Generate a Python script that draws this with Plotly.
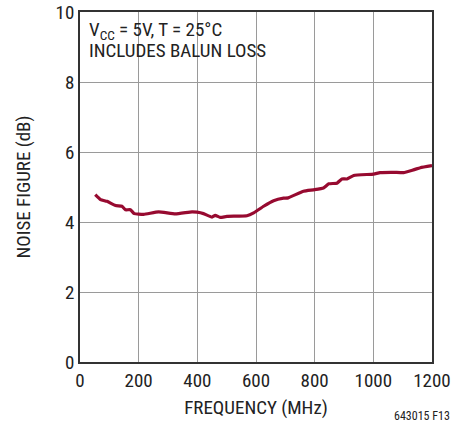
import plotly.graph_objects as go

freq_mhz = [52, 70, 92, 121, 143, 155, 172, 185, 217, 268, 325, 382, 399, 421, 450, 461,
            478, 501, 569, 592, 626, 660, 694, 710, 762, 796, 830, 848, 876, 893, 910,
            933, 1001, 1023, 1069, 1103, 1137, 1160, 1200]
noise_db = [4.78, 4.64, 4.59, 4.47, 4.45, 4.35, 4.35, 4.24, 4.22, 4.29, 4.23, 4.29, 4.28,
            4.24, 4.14, 4.19, 4.13, 4.16, 4.18, 4.26, 4.45, 4.61, 4.68, 4.69, 4.88, 4.92,
            4.97, 5.09, 5.11, 5.23, 5.23, 5.33, 5.37, 5.41, 5.42, 5.41, 5.49, 5.55, 5.61]
x_ticks = [0, 200, 400, 600, 800, 1000, 1200]
y_ticks = [0, 2, 4, 6, 8, 10]

FONT = "Liberation Sans Narrow, Arial Narrow, Roboto Condensed, Liberation Sans, sans-serif"
TXT = "#222222"
FS = 19

fig = go.Figure()
fig.add_trace(go.Scatter(x=freq_mhz, y=noise_db, mode="lines",
                         line=dict(color="#970A30", width=3.2, shape="spline", smoothing=0.4),
                         hoverinfo="skip", showlegend=False))

axis_common = dict(showgrid=True, gridcolor="#9a9a9a", gridwidth=1.2, automargin=False,
                   showline=True, linecolor="#333333", linewidth=1.8, mirror=True,
                   zeroline=False, ticks="", tickfont=dict(family=FONT, size=FS, color=TXT))

fig.update_xaxes(range=[0, 1200], tickvals=x_ticks, **axis_common,
                 title=dict(text="FREQUENCY (MHz)", font=dict(family=FONT, size=FS, color=TXT), standoff=10))
fig.update_yaxes(range=[0, 10], tickvals=y_ticks, **axis_common,
                 title=dict(text="NOISE FIGURE (dB)", font=dict(family=FONT, size=FS, color=TXT), standoff=20))

fig.add_annotation(x=0.021, y=0.946, xref="paper", yref="paper", xanchor="left", yanchor="middle",
                   text="V<sub>CC</sub> = 5V, T = 25°C", showarrow=False,
                   font=dict(family=FONT, size=FS, color=TXT))
fig.add_annotation(x=0.021, y=0.889, xref="paper", yref="paper", xanchor="left", yanchor="middle",
                   text="INCLUDES BALUN LOSS", showarrow=False,
                   font=dict(family=FONT, size=FS, color=TXT))
fig.add_annotation(x=(422 - 79.6) / 352, y=(362.3 - 416) / 350, xref="paper", yref="paper",
                   xanchor="center", yanchor="middle", text="643015 F13", showarrow=False,
                   font=dict(family=FONT, size=12, color=TXT))

fig.update_layout(width=469, height=425, margin=dict(l=80, r=37, t=12, b=63),
                  paper_bgcolor="white", plot_bgcolor="white")

fig.write_html("out.html", config={"displayModeBar": False},
               post_script="document.body.style.margin='0';document.body.style.overflow='hidden';")
